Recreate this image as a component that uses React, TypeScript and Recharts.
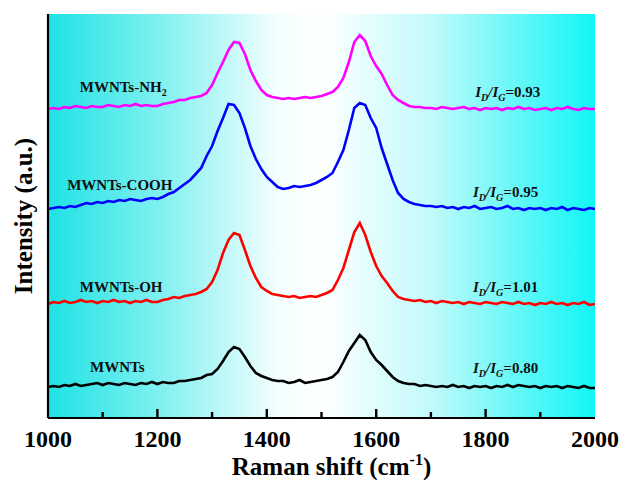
import { LineChart, Line, XAxis, YAxis, CartesianGrid, ReferenceDot } from 'recharts';

// Raman shift grid, cm-1 (10 cm-1 steps)
const SHIFT = Array.from({ length: 101 }, (_, i) => 1000 + i * 10);

// Intensities (a.u., offset stack) per sample, one value per shift step
const MWNT = [
  31, 32, 31, 33, 32, 34, 32, 33, 34, 35,
  33, 35, 34, 33, 35, 34, 33, 35, 34, 36,
  34, 36, 35, 35, 37, 37, 38, 39, 40, 43,
  44, 49, 57, 66, 71, 69, 61, 52, 45, 42,
  40, 38, 37, 37, 35, 36, 38, 35, 36, 37,
  38, 39, 41, 46, 56, 67, 75, 83, 78, 66,
  58, 53, 47, 41, 37, 35, 34, 34, 32, 33,
  32, 31, 32, 31, 33, 31, 32, 30, 32, 31,
  32, 30, 32, 31, 33, 31, 33, 32, 31, 32,
  30, 32, 31, 32, 30, 32, 31, 30, 32, 30, 30,
];

const MWNT_OH = [
  114, 116, 115, 117, 115, 116, 118, 116, 117, 115,
  117, 116, 118, 116, 117, 115, 117, 116, 118, 116,
  116, 118, 119, 121, 120, 122, 123, 124, 126, 129,
  136, 148, 165, 178, 185, 183, 168, 152, 140, 131,
  127, 124, 123, 122, 121, 122, 120, 121, 122, 121,
  123, 125, 128, 138, 150, 168, 186, 195, 183, 166,
  152, 142, 135, 127, 121, 119, 118, 117, 118, 116,
  117, 115, 117, 116, 115, 116, 114, 116, 115, 114,
  116, 115, 114, 116, 115, 114, 116, 114, 115, 113,
  115, 114, 116, 114, 115, 113, 115, 114, 116, 113, 114,
];

const MWNT_COOH = [
  209, 210, 211, 210, 212, 211, 213, 215, 214, 216,
  215, 217, 216, 218, 217, 219, 218, 217, 219, 220,
  219, 221, 224, 226, 230, 234, 238, 244, 250, 262,
  272, 287, 300, 314, 313, 305, 290, 272, 259, 249,
  241, 236, 231, 229, 230, 232, 231, 232, 233, 235,
  238, 241, 245, 256, 268, 288, 310, 315, 313, 300,
  290, 270, 254, 238, 225, 219, 216, 214, 213, 212,
  212, 211, 212, 210, 211, 209, 211, 210, 212, 209,
  210, 211, 209, 210, 212, 209, 210, 208, 210, 209,
  210, 208, 210, 209, 211, 208, 210, 209, 208, 210, 209,
];

const MWNT_NH2 = [
  309, 310, 309, 311, 310, 312, 311, 310, 312, 311,
  311, 313, 312, 311, 313, 312, 314, 312, 313, 312,
  312, 314, 315, 316, 318, 318, 320, 321, 322, 325,
  333, 345, 356, 368, 376, 375, 364, 348, 337, 328,
  323, 321, 320, 319, 320, 319, 320, 321, 320, 321,
  322, 324, 326, 331, 340, 356, 376, 383, 377, 362,
  352, 344, 333, 323, 318, 315, 312, 311, 311, 310,
  310, 309, 311, 310, 309, 310, 311, 309, 310, 308,
  310, 309, 310, 308, 310, 309, 311, 309, 310, 308,
  309, 310, 308, 310, 309, 311, 309, 308, 310, 309, 309,
];

const X_TICKS = [1000, 1100, 1200, 1300, 1400, 1500, 1600, 1700, 1800, 1900, 2000];

// sample names: [name, subscript, shift, intensity]
const NAMES: [string, string, number, number][] = [
  ['MWNTs-NH', '2', 1058, 326],
  ['MWNTs-COOH', '', 1035, 228],
  ['MWNTs-OH', '', 1058, 126],
  ['MWNTs', '', 1077, 46],
];

// D/G band intensity ratios: [ratio, shift, intensity]
const RATIOS: [string, number, number][] = [
  ['0.93', 1781, 321],
  ['0.95', 1777, 221],
  ['1.01', 1777, 126],
  ['0.80', 1777, 45],
];

const data = SHIFT.map((s, i) => ({
  shift: s,
  mwnt: MWNT[i],
  oh: MWNT_OH[i],
  cooh: MWNT_COOH[i],
  nh2: MWNT_NH2[i],
}));

const SERIF = "'Liberation Serif', 'Times New Roman', serif";
const FRAME = { stroke: '#000', strokeWidth: 2.2 };

// inward tick mark; only the 200 cm-1 steps get a number
function ShiftTick({ x, y, payload }: any) {
  const major = payload.value % 200 === 0;
  const edge = payload.value === 1000 || payload.value === 2000;
  return (
    <g>
      {!edge && <line x1={x} x2={x} y1={y} y2={y - (major ? 9 : 6)} stroke="#000" strokeWidth={2.4} />}
      {major && (
        <text x={x} y={y + 29} textAnchor="middle" fontSize={24} fontWeight="bold" fontFamily={SERIF} fill="#000">
          {payload.value}
        </text>
      )}
    </g>
  );
}

function XTitle({ viewBox }: any) {
  const cx = viewBox.x + viewBox.width / 2 + 10;
  return (
    <text x={cx} y={475} textAnchor="middle" fontSize={25} fontWeight="bold" fontFamily={SERIF} fill="#000">
      Raman shift (cm
      <tspan fontSize={16} dy={-10}>-1</tspan>
      <tspan dy={10}>)</tspan>
    </text>
  );
}

function YTitle() {
  const cy = 216;
  return (
    <text
      x={23}
      y={cy}
      transform={`rotate(-90 23 ${cy})`}
      textAnchor="middle"
      dominantBaseline="central"
      fontSize={25}
      fontWeight="bold"
      fontFamily={SERIF}
      fill="#000"
    >
      Intensity (a.u.)
    </text>
  );
}

function nameShape(name: string, sub: string) {
  return (p: any) => (
    <text x={p.cx} y={p.cy} fontSize={15} fontWeight="bold" fontFamily={SERIF} fill="#111">
      {name}
      {sub && <tspan fontSize={10} dy={4}>{sub}</tspan>}
    </text>
  );
}

function ratioShape(ratio: string) {
  return (p: any) => (
    <text x={p.cx} y={p.cy} fontSize={15} fontWeight="bold" fontFamily={SERIF} fill="#111">
      <tspan fontStyle="italic">I</tspan>
      <tspan fontStyle="italic" fontSize={10} dy={4}>D</tspan>
      <tspan fontStyle="italic" dy={-4}>/I</tspan>
      <tspan fontStyle="italic" fontSize={10} dy={4}>G</tspan>
      <tspan dy={-4}>={ratio}</tspan>
    </text>
  );
}

export default function App() {
  return (
    <div style={{ position: 'absolute', left: 0, top: 0, background: '#fff' }}>
      <LineChart width={624} height={480} data={data} margin={{ top: 14, right: 29, bottom: 0, left: 0 }}>
        <defs>
          <linearGradient id="ramanBg" x1="0" y1="0" x2="1" y2="0">
            <stop offset="0%" stopColor="#1ee2e4" />
            <stop offset="20%" stopColor="#7ef0f0" />
            <stop offset="42%" stopColor="#f4fefe" />
            <stop offset="50%" stopColor="#ffffff" />
            <stop offset="70%" stopColor="#c2fafa" />
            <stop offset="100%" stopColor="#10f6f6" />
          </linearGradient>
        </defs>
        <CartesianGrid horizontal={false} vertical={false} fill="url(#ramanBg)" fillOpacity={1} />
        <XAxis
          dataKey="shift"
          type="number"
          domain={[1000, 2000]}
          ticks={X_TICKS}
          interval={0}
          height={62}
          tickSize={0}
          tickMargin={0}
          tickLine={false}
          axisLine={FRAME}
          tick={<ShiftTick />}
          label={<XTitle />}
        />
        <XAxis
          xAxisId="top"
          orientation="top"
          dataKey="shift"
          type="number"
          domain={[1000, 2000]}
          height={0}
          tick={false}
          tickLine={false}
          axisLine={FRAME}
        />
        <YAxis type="number" domain={[0, 404]} width={48} tick={false} tickLine={false} axisLine={FRAME} label={<YTitle />} />
        <YAxis
          yAxisId="right"
          orientation="right"
          type="number"
          domain={[0, 404]}
          width={0}
          tick={false}
          tickLine={false}
          axisLine={FRAME}
        />
        <Line dataKey="mwnt" stroke="#000000" strokeWidth={2.6} dot={false} isAnimationActive={false} />
        <Line dataKey="oh" stroke="#ff0000" strokeWidth={2.6} dot={false} isAnimationActive={false} />
        <Line dataKey="cooh" stroke="#0000ff" strokeWidth={2.6} dot={false} isAnimationActive={false} />
        <Line dataKey="nh2" stroke="#ff00ff" strokeWidth={2.6} dot={false} isAnimationActive={false} />
        {NAMES.map(([name, sub, x, y]) => (
          <ReferenceDot key={name} x={x} y={y} r={0} shape={nameShape(name, sub)} />
        ))}
        {RATIOS.map(([ratio, x, y]) => (
          <ReferenceDot key={ratio} x={x} y={y} r={0} shape={ratioShape(ratio)} />
        ))}
      </LineChart>
    </div>
  );
}
